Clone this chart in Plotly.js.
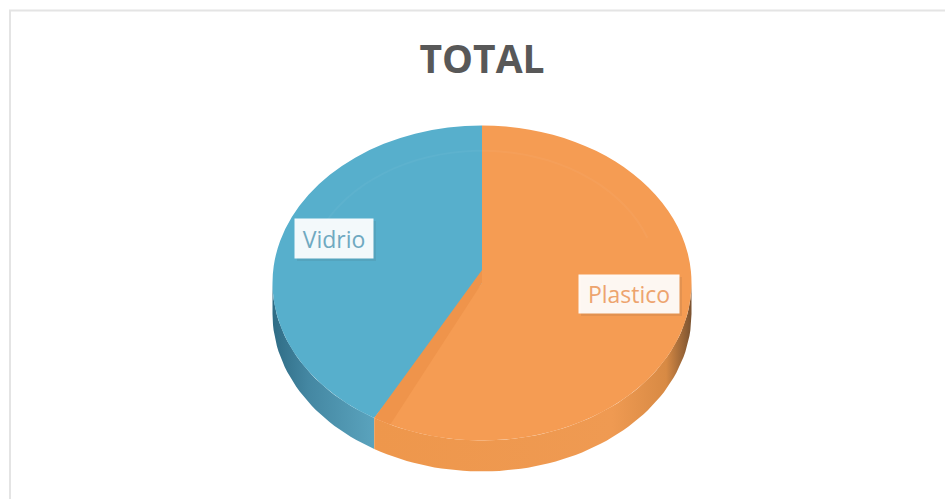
<!DOCTYPE html>
<html>
<head>
<meta charset="utf-8">
<script src="https://cdn.plot.ly/plotly-3.0.1.min.js"></script>
<style>html,body{margin:0;padding:0;background:#fff}#chart{width:945px;height:499px}</style>
</head>
<body>
<div id="chart"></div>
<script>
// Share of each material in the total
const materials = ['Vidrio', 'Plastico'];
const shares = [41.4, 58.6];
const sliceColors = ['#57AFCC', '#F59C53'];
const labelColors = ['#6FA9C1', '#EDA46E'];

// Tilted disc geometry, in pixels of the 945x499 page
const W = 945, H = 499;
const cx = 482, cy = 283, rx = 209.5, ry = 157.5, depth = 31;

// Axes are scaled so the disc rim is the unit circle
const xRange = [-cx / rx, (W - cx) / rx];
const yRange = [(cy - H) / ry, cy / ry];
const wall = depth / ry;

const splitDeg = shares[0] / (shares[0] + shares[1]) * 360;   // counter-clockwise from 12 o'clock
const rimX = d => -Math.sin(d * Math.PI / 180);
const rimY = d => Math.cos(d * Math.PI / 180);

function wallPolygon(fromDeg, toDeg) {
  const steps = Math.ceil((toDeg - fromDeg) / 2);
  const xs = [], ys = [];
  for (let i = 0; i <= steps; i++) {
    const d = fromDeg + (toDeg - fromDeg) * i / steps;
    xs.push(rimX(d)); ys.push(rimY(d));
  }
  for (let i = steps; i >= 0; i--) {
    const d = fromDeg + (toDeg - fromDeg) * i / steps;
    xs.push(rimX(d)); ys.push(rimY(d) - wall);
  }
  xs.push(xs[0]); ys.push(ys[0]);
  return {x: xs, y: ys};
}

const blueWall = wallPolygon(90, splitDeg);
const orangeWall = wallPolygon(splitDeg, 270);

const traces = [
  {
    type: 'scatter', mode: 'lines', x: blueWall.x, y: blueWall.y,
    line: {width: 0}, fill: 'toself', hoverinfo: 'skip',
    fillgradient: {type: 'horizontal', colorscale: [[0, '#2F6C85'], [0.35, '#4487A2'], [1, '#5AA3BD']]}
  },
  {
    type: 'scatter', mode: 'lines', x: orangeWall.x, y: orangeWall.y,
    line: {width: 0}, fill: 'toself', hoverinfo: 'skip',
    fillgradient: {type: 'horizontal', colorscale: [[0, '#EE974C'], [0.75, '#EF9A52'], [0.92, '#D88A44'], [1, '#7A5230']]}
  },
  {
    // The first slice starts past the split and ends at 12 o'clock
    type: 'pie', labels: materials, values: shares, sort: false,
    direction: 'clockwise', rotation: -splitDeg,
    marker: {colors: sliceColors, line: {width: 0}},
    textinfo: 'none', hoverinfo: 'label+percent',
    domain: {x: [(cx - rx) / W, (cx + rx) / W], y: [1 - (cy + rx) / H, 1 - (cy - rx) / H]}
  }
];

// Cut face of the orange slice, seen past the split line
const cutDeg = splitDeg + 5;
const cutFace = 'M ' + 0 + ' ' + (13 / ry) +
  ' L ' + rimX(splitDeg) + ' ' + rimY(splitDeg) +
  ' L ' + rimX(cutDeg) + ' ' + rimY(cutDeg) +
  ' L 0 0 Z';

// Faint bevel line near the back of the disc
let bevel = '';
for (let d = 70; d >= -70; d -= 4) {
  bevel += (bevel ? ' L ' : 'M ') + (0.84 * rimX(d)) + ' ' + (0.84 * rimY(d));
}

const px = v => v / W;
const py = v => 1 - v / H;
const labelBoxes = [
  {x0: 295, x1: 373, y0: 219, y1: 258},
  {x0: 579, x1: 679, y0: 275, y1: 313}
];

const shapes = [
  {type: 'path', xref: 'x', yref: 'y', path: bevel, line: {color: 'rgba(255,255,255,0.04)', width: 2}},
  {type: 'path', xref: 'x', yref: 'y', path: cutFace, fillcolor: '#EF944B', line: {width: 0}},
  // Frame of the chart area
  {type: 'line', xref: 'paper', yref: 'paper', x0: px(9), x1: px(945), y0: py(10.5), y1: py(10.5), line: {color: '#E4E4E4', width: 2}},
  {type: 'line', xref: 'paper', yref: 'paper', x0: px(10), x1: px(10), y0: py(10), y1: py(499), line: {color: '#E4E4E4', width: 2}}
].concat(labelBoxes.map(b => ({
  type: 'rect', xref: 'paper', yref: 'paper',
  x0: px(b.x0 + 2), x1: px(b.x1 + 3), y0: py(b.y0 + 2), y1: py(b.y1 + 3),
  fillcolor: 'rgba(60,60,60,0.09)', line: {width: 0}
})));

const annotations = materials.map((m, i) => {
  const b = labelBoxes[i];
  return {
    text: m, showarrow: false, xref: 'paper', yref: 'paper',
    x: px((b.x0 + b.x1) / 2), y: py((b.y0 + b.y1) / 2),
    xanchor: 'center', yanchor: 'middle',
    width: b.x1 - b.x0, height: b.y1 - b.y0, borderpad: 0,
    bgcolor: 'rgba(255,255,255,0.93)',
    font: {family: 'Open Sans, sans-serif', size: 23, color: labelColors[i]}
  };
});

const layout = {
  width: W, height: H,
  margin: {l: 0, r: 0, t: 0, b: 0},
  paper_bgcolor: '#FFFFFF', plot_bgcolor: 'rgba(0,0,0,0)',
  showlegend: false,
  title: {
    text: '<b>TOTAL</b>', x: 482 / W, xanchor: 'center', y: 1 - 59 / H, yanchor: 'middle',
    font: {family: 'Open Sans, sans-serif', size: 39, color: '#585858'}
  },
  xaxis: {range: xRange, visible: false, fixedrange: true},
  yaxis: {range: yRange, visible: false, fixedrange: true},
  shapes: shapes,
  annotations: annotations
};

Plotly.newPlot('chart', traces, layout, {displayModeBar: false, staticPlot: true}).then(gd => {
  // Flatten the pie to the tilt of the disc, around its own centre
  const pies = gd.querySelector('.pielayer');
  pies.setAttribute('transform',
    'translate(0,' + cy + ') scale(1,' + (ry / rx) + ') translate(0,' + (-cy) + ')');
});
</script>
</body>
</html>
